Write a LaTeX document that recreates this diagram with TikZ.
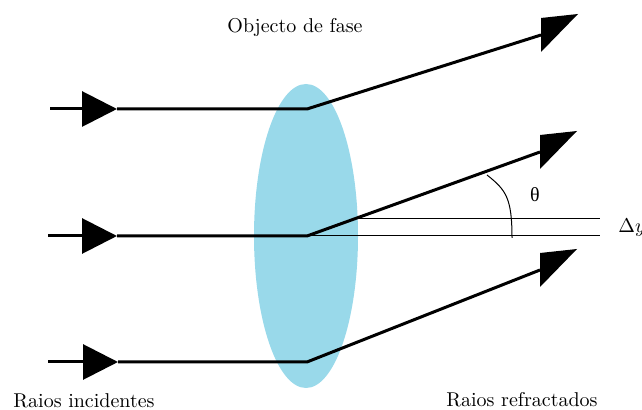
\documentclass[tikz,border=0pt]{standalone}
\usepackage{fontspec}
\usepackage{amsmath}
\usetikzlibrary{arrows.meta}
\newfontfamily\greekfont{Liberation Serif}
\definecolor{phaseblue}{RGB}{153,217,234}

\begin{document}
\begin{tikzpicture}[
  x=0.5pt, y=-0.5pt,
  ray/.style={line width=1.5pt},
  thin/.style={line width=0.5pt},
  head/.style={fill=black},
  inarrow/.style={ray, -{Triangle[length=17.5pt, width=17.5pt]}},
  every node/.style={inner sep=1pt}
]
\useasboundingbox (0,0) rectangle (642,410);

% phase object
\fill[phaseblue] (306,236) ellipse [x radius=52, y radius=152];

% incident side
\coordinate (s1) at (50,109);
\coordinate (s2) at (48,236);
\coordinate (s3) at (48,362);
\coordinate (t1) at (117,109);
\coordinate (t2) at (117,236);
\coordinate (t3) at (118,362);
\coordinate (k1) at (307,109);
\coordinate (k2) at (307,236);
\coordinate (k3) at (307,362);

% refracted side
\coordinate (e1) at (541,35);
\coordinate (e2) at (540,152);
\coordinate (e3) at (540,270);

\draw[inarrow] (s1) -- (t1);
\draw[inarrow] (s2) -- (t2);
\draw[inarrow] (s3) -- (t3);

\draw[ray] (t1) -- (k1) -- (e1);
\draw[ray] (t2) -- (k2) -- (e2);
\draw[ray] (t3) -- (k3) -- (e3);

\fill[head] (e1) ++(0,17) -- ++(0,-34) -- ++(37,-4) -- cycle;
\fill[head] (e2) ++(0,17) -- ++(0,-34) -- ++(37,-4) -- cycle;
\fill[head] (e3) ++(0,17) -- ++(0,-34) -- ++(37,-4) -- cycle;

% displacement and angle
\coordinate (d1) at (600,219);
\coordinate (d2) at (600,236);
\draw[thin] (356,219) -- (d1);
\draw[thin] (k2) -- (d2);
\draw[thin] (487,175) .. controls (506,190) and (512,198) .. (512,238);

\node (theta) at (535,195) {\greekfont θ};
\node[anchor=west] (dy) at (616,228) {$\Delta y$};

% labels
\node (obj) at (295,28) {Objecto de fase};
\node (inc) at (84,401) {Raios incidentes};
\node (ref) at (522,400) {Raios refractados};

\end{tikzpicture}
\end{document}
